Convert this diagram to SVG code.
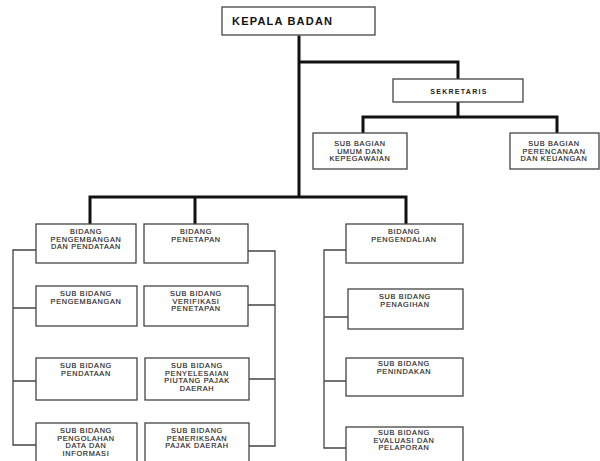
<svg xmlns="http://www.w3.org/2000/svg" width="600" height="461" viewBox="0 0 600 461">
<style>
.box{fill:#fff;stroke:#444;stroke-width:1.3}
.thick{fill:none;stroke:#111;stroke-width:3;stroke-linejoin:miter;stroke-linecap:square}
.thin{fill:none;stroke:#444;stroke-width:1.3}
.t{font-family:"Liberation Sans",Arial,sans-serif;font-size:7.3px;letter-spacing:0.7px;fill:#222;stroke:#222;stroke-width:0.15;text-anchor:middle}
.tb{font-family:"Liberation Sans",Arial,sans-serif;font-size:7px;font-weight:bold;letter-spacing:1.3px;fill:#222;text-anchor:middle}
.head{font-family:"Liberation Sans",Arial,sans-serif;font-size:11px;font-weight:bold;letter-spacing:1.2px;fill:#111}
</style>
<rect width="600" height="461" fill="#fff"/>
<g id="connectors">
<path class="thick" d="M299 37V197M299 62H458V79M458 102V117M363 133V117H557V133M90 224V197H406V224M195 197V224"/>
<path class="thin" d="M36 250H13V445H36M13 308H36M13 381H36"/>
<path class="thin" d="M248 251H275V446H249M275 305H248M275 379H249"/>
<path class="thin" d="M346 250H324V448H346M324 317H348M324 381H346"/>
</g>
<g id="kepala"><rect class="box" x="222" y="7" width="153" height="28"/><text class="head" x="232" y="25">KEPALA BADAN</text></g>
<g id="sekretaris"><rect class="box" x="393" y="79" width="130" height="23"/><text class="tb" x="459" y="93.5">SEKRETARIS</text></g>
<g id="sub-umum"><rect class="box" x="313" y="133" width="94" height="36"/><text class="t" x="360"><tspan x="360" y="146">SUB BAGIAN</tspan><tspan x="360" y="153.5">UMUM DAN</tspan><tspan x="360" y="161">KEPEGAWAIAN</tspan></text></g>
<g id="sub-perencanaan"><rect class="box" x="510" y="133" width="89" height="36"/><text class="t" x="554"><tspan x="554" y="146">SUB BAGIAN</tspan><tspan x="554" y="153.5">PERENCANAAN</tspan><tspan x="554" y="161">DAN KEUANGAN</tspan></text></g>
<g id="bidang-pengembangan"><rect class="box" x="36" y="224" width="100" height="39"/><text class="t"><tspan x="86" y="234">BIDANG</tspan><tspan x="86" y="241.5">PENGEMBANGAN</tspan><tspan x="86" y="249">DAN PENDATAAN</tspan></text></g>
<g id="bidang-penetapan"><rect class="box" x="144" y="224" width="104" height="39"/><text class="t"><tspan x="196" y="234">BIDANG</tspan><tspan x="196" y="241.5">PENETAPAN</tspan></text></g>
<g id="bidang-pengendalian"><rect class="box" x="346" y="224" width="117" height="39"/><text class="t"><tspan x="404" y="234">BIDANG</tspan><tspan x="404" y="241.5">PENGENDALIAN</tspan></text></g>
<g id="sub-pengembangan"><rect class="box" x="36" y="286" width="101" height="40"/><text class="t"><tspan x="86" y="296">SUB BIDANG</tspan><tspan x="86" y="303.5">PENGEMBANGAN</tspan></text></g>
<g id="sub-pendataan"><rect class="box" x="36" y="358" width="101" height="42"/><text class="t"><tspan x="86" y="368">SUB BIDANG</tspan><tspan x="86" y="375.5">PENDATAAN</tspan></text></g>
<g id="sub-pengolahan"><rect class="box" x="36" y="423" width="101" height="50"/><text class="t"><tspan x="86" y="433">SUB BIDANG</tspan><tspan x="86" y="440.5">PENGOLAHAN</tspan><tspan x="86" y="448">DATA DAN</tspan><tspan x="86" y="455.5">INFORMASI</tspan></text></g>
<g id="sub-verifikasi"><rect class="box" x="144" y="286" width="104" height="40"/><text class="t"><tspan x="196" y="296">SUB BIDANG</tspan><tspan x="196" y="303.5">VERIFIKASI</tspan><tspan x="196" y="311">PENETAPAN</tspan></text></g>
<g id="sub-penyelesaian"><rect class="box" x="145" y="358" width="104" height="42"/><text class="t"><tspan x="197" y="368">SUB BIDANG</tspan><tspan x="197" y="375.5">PENYELESAIAN</tspan><tspan x="197" y="383">PIUTANG PAJAK</tspan><tspan x="197" y="390.5">DAERAH</tspan></text></g>
<g id="sub-pemeriksaan"><rect class="box" x="145" y="423" width="104" height="50"/><text class="t"><tspan x="197" y="433">SUB BIDANG</tspan><tspan x="197" y="440.5">PEMERIKSAAN</tspan><tspan x="197" y="448">PAJAK DAERAH</tspan></text></g>
<g id="sub-penagihan"><rect class="box" x="348" y="289" width="115" height="40"/><text class="t"><tspan x="405" y="299">SUB BIDANG</tspan><tspan x="405" y="306.5">PENAGIHAN</tspan></text></g>
<g id="sub-penindakan"><rect class="box" x="346" y="358" width="117" height="38"/><text class="t"><tspan x="404" y="366">SUB BIDANG</tspan><tspan x="404" y="373.5">PENINDAKAN</tspan></text></g>
<g id="sub-evaluasi"><rect class="box" x="346" y="427" width="117" height="46"/><text class="t"><tspan x="404" y="435">SUB BIDANG</tspan><tspan x="404" y="442.5">EVALUASI DAN</tspan><tspan x="404" y="450">PELAPORAN</tspan></text></g>
</svg>
